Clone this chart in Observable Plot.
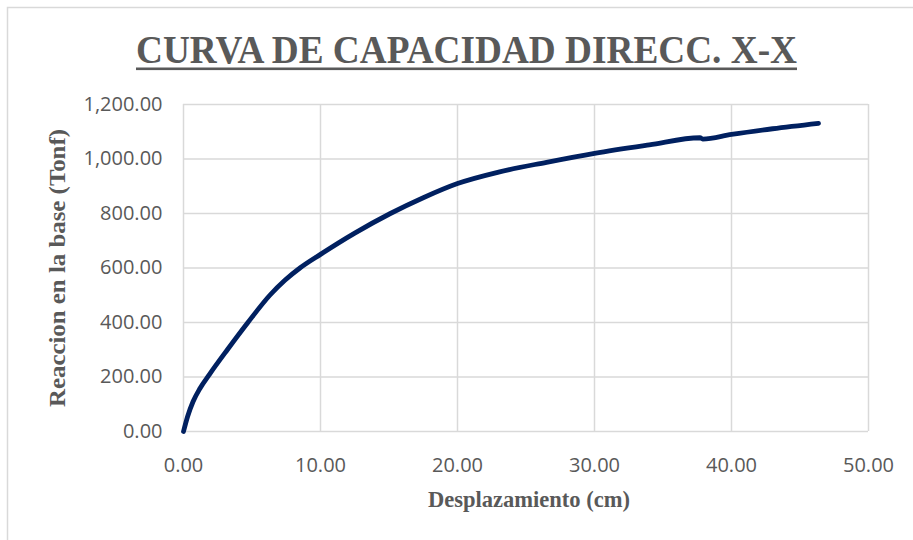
<!DOCTYPE html>
<html>
<head>
<meta charset="utf-8">
<script src="https://cdn.jsdelivr.net/npm/d3@7"></script>
<script src="https://cdn.jsdelivr.net/npm/@observablehq/plot@0.6"></script>
<style>
  html, body { margin: 0; padding: 0; background: #fff; }
  #chart svg { display: block; }
</style>
</head>
<body>
<div id="chart"></div>
<script>
const titleText = "CURVA DE CAPACIDAD DIRECC. X-X";
const xLabel = "Desplazamiento (cm)";
const yLabel = "Reaccion en la base (Tonf)";

const xTicks = [0, 10, 20, 30, 40, 50];
const yTicks = [0, 200, 400, 600, 800, 1000, 1200];

const desplazamiento = [0, 0.3, 0.7, 1.2, 1.9, 3.2, 4.7, 6.3, 7.4, 8.5, 10, 12.5, 15.1, 17.5, 20, 23, 26.5, 30, 34, 37.7, 37.9, 40, 43, 46.35];
const reaccion = [0, 55, 110, 158, 210, 300, 400, 500, 555, 600, 650, 728, 800, 858, 910, 952, 988, 1021, 1052, 1078, 1073, 1090, 1111, 1131];

const data = desplazamiento.map((d, i) => ({x: d, y: reaccion[i]}));

const W = 913, H = 540;
const fmt = d3.format(",.2f");

const plot = Plot.plot({
  width: W,
  height: H,
  marginLeft: 183,
  marginRight: 45,
  marginTop: 104,
  marginBottom: 109,
  style: {fontFamily: "'Open Sans', sans-serif", fontSize: "20px", color: "#595959", background: "#fff"},
  x: {domain: [0, 50], ticks: xTicks, tickFormat: fmt, label: null},
  y: {domain: [0, 1200], ticks: yTicks, tickFormat: fmt, label: null},
  marks: [
    Plot.gridX(xTicks, {stroke: "#d9d9d9", strokeOpacity: 1, strokeWidth: 1.5}),
    Plot.gridY(yTicks, {stroke: "#d9d9d9", strokeOpacity: 1, strokeWidth: 1.5}),
    Plot.axisX(xTicks, {tickSize: 0, tickPadding: 26, tickFormat: fmt, fill: "#595959", label: null}),
    Plot.axisY(yTicks, {tickSize: 0, tickPadding: 21, tickFormat: fmt, fill: "#595959", label: null}),
    Plot.line(data, {x: "x", y: "y", stroke: "#002060", strokeWidth: 4.8, curve: "monotone-x", strokeLinecap: "round", strokeLinejoin: "round"})
  ]
});

const svg = d3.select(plot);
// outer chart-area border (only top and left edges visible)
svg.insert("rect", ":first-child")
  .attr("x", 7.5).attr("y", 7.5).attr("width", W + 20).attr("height", H + 20)
  .attr("fill", "none").attr("stroke", "#d9d9d9").attr("stroke-width", 1.5);

const serif = "'Liberation Serif', 'Times New Roman', serif";
// title
svg.append("text")
  .attr("x", 136).attr("y", 63)
  .attr("text-anchor", "start")
  .attr("textLength", 661).attr("lengthAdjust", "spacingAndGlyphs")
  .attr("font-family", serif).attr("font-weight", "bold").attr("font-size", 40)
  .attr("fill", "#595959")
  .text(titleText);
svg.append("rect")
  .attr("x", 136).attr("y", 67.5).attr("width", 661).attr("height", 2.6)
  .attr("fill", "#595959");
// x axis title
svg.append("text")
  .attr("x", 428).attr("y", 507)
  .attr("text-anchor", "start")
  .attr("textLength", 202).attr("lengthAdjust", "spacingAndGlyphs")
  .attr("font-family", serif).attr("font-weight", "bold").attr("font-size", 24)
  .attr("fill", "#595959")
  .text(xLabel);
// y axis title
svg.append("text")
  .attr("transform", "translate(65,407) rotate(-90)")
  .attr("text-anchor", "start")
  .attr("textLength", 278).attr("lengthAdjust", "spacingAndGlyphs")
  .attr("font-family", serif).attr("font-weight", "bold").attr("font-size", 24)
  .attr("fill", "#595959")
  .text(yLabel);

document.getElementById("chart").appendChild(plot);
</script>
</body>
</html>
